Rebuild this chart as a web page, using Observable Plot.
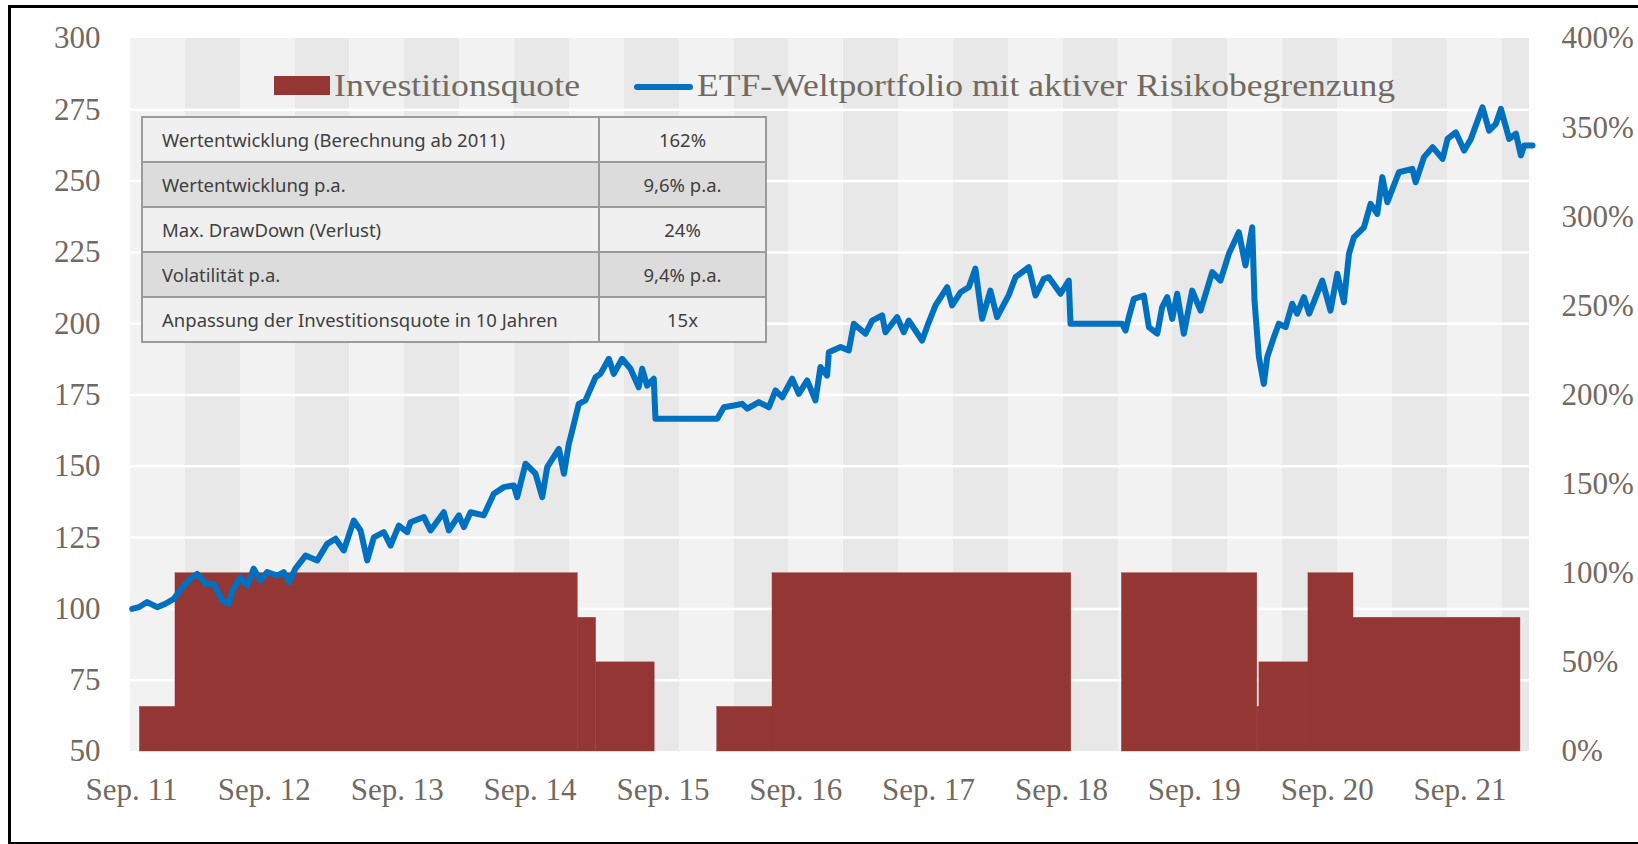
<!DOCTYPE html>
<html>
<head>
<meta charset="utf-8">
<script src="https://cdn.jsdelivr.net/npm/d3@7"></script>
<script src="https://cdn.jsdelivr.net/npm/@observablehq/plot@0.6"></script>
<style>
  html, body { margin: 0; padding: 0; background: #fff; width: 1638px; height: 844px; overflow: hidden; }
  #wrap { position: relative; width: 1638px; height: 844px; }
  #chart { position: absolute; left: 0; top: 0; }
  #frame { position: absolute; left: 8px; top: 5px; width: 1700px; height: 840px; border: 3px solid #000; box-sizing: border-box; pointer-events: none; }
  .leg { position: absolute; }
  .legtxt { position: absolute; font-family: "Liberation Serif", serif; font-size: 32px; color: #716a63; white-space: nowrap; line-height: 32px; transform-origin: 0 50%; }
  #stats { position: absolute; left: 141px; top: 116px; border-collapse: collapse; font-family: "Noto Sans", sans-serif; font-size: 18.5px; color: #404040; }
  #stats td { border: 2px solid #9b9b9b; height: 45px; padding: 0; box-sizing: border-box; }
  #stats td.k { width: 457px; padding-left: 19px; }
  #stats td.v { width: 167px; text-align: center; }
</style>
</head>
<body>
<div id="wrap">
  <div id="chart"></div>
  <div class="leg" style="left:274px; top:76px; width:56px; height:19px; background:#943634;"></div>
  <div class="legtxt" id="l1" style="left:334px; top:69px;"></div>
  <div class="leg" style="left:634px; top:84px; width:59px; height:6px; border-radius:3px; background:#0070C0;"></div>
  <div class="legtxt" id="l2" style="left:697px; top:69px;"></div>
  <table id="stats"></table>
  <div id="frame"></div>
</div>
<script>
// ---------- data ----------
const legendLabels = ["Investitionsquote", "ETF-Weltportfolio mit aktiver Risikobegrenzung"];

// ETF portfolio value (indexed, 100 = Sep. 2011); x in decimal years
const etfYear = [
  2011.671, 2011.721, 2011.784, 2011.859, 2011.922, 2011.984, 2012.060, 2012.110, 2012.160, 2012.223,
  2012.285, 2012.349, 2012.398, 2012.424, 2012.486, 2012.537, 2012.586, 2012.637, 2012.687, 2012.763,
  2012.812, 2012.850, 2012.900, 2012.976, 2013.064, 2013.139, 2013.202, 2013.264, 2013.339, 2013.390,
  2013.440, 2013.490, 2013.565, 2013.616, 2013.678, 2013.741, 2013.766, 2013.867, 2013.917, 2014.017,
  2014.055, 2014.130, 2014.168, 2014.218, 2014.318, 2014.393, 2014.469, 2014.544, 2014.569, 2014.632,
  2014.707, 2014.758, 2014.795, 2014.883, 2014.921, 2014.958, 2014.971, 2015.008, 2015.033, 2015.083,
  2015.159, 2015.196, 2015.259, 2015.296, 2015.359, 2015.422, 2015.484, 2015.510, 2015.547, 2015.597,
  2015.610, 2016.075, 2016.125, 2016.200, 2016.263, 2016.301, 2016.388, 2016.464, 2016.514, 2016.564,
  2016.639, 2016.689, 2016.752, 2016.814, 2016.852, 2016.902, 2016.915, 2017.003, 2017.065, 2017.103,
  2017.191, 2017.241, 2017.316, 2017.341, 2017.429, 2017.479, 2017.517, 2017.617, 2017.667, 2017.718,
  2017.806, 2017.843, 2017.906, 2017.968, 2018.018, 2018.069, 2018.131, 2018.181, 2018.269, 2018.320,
  2018.420, 2018.471, 2018.533, 2018.571, 2018.659, 2018.721, 2018.734, 2019.123, 2019.148, 2019.173,
  2019.211, 2019.286, 2019.324, 2019.387, 2019.424, 2019.462, 2019.500, 2019.537, 2019.587, 2019.650,
  2019.713, 2019.801, 2019.863, 2019.926, 2020.001, 2020.051, 2020.102, 2020.119, 2020.152, 2020.189,
  2020.215, 2020.265, 2020.302, 2020.353, 2020.403, 2020.440, 2020.491, 2020.531, 2020.629, 2020.691,
  2020.742, 2020.792, 2020.830, 2020.867, 2020.943, 2020.993, 2021.043, 2021.081, 2021.119, 2021.206,
  2021.307, 2021.332, 2021.395, 2021.460, 2021.535, 2021.572, 2021.634, 2021.697, 2021.748, 2021.835,
  2021.885, 2021.936, 2021.974, 2022.036, 2022.087, 2022.124, 2022.149, 2022.212
];
const etfValue = [
  100.0, 100.6, 102.4, 100.6, 101.8, 103.5, 108.2, 110.6, 112.3, 108.8,
  108.8, 102.9, 101.8, 106.4, 111.1, 108.2, 114.1, 110.0, 112.9, 111.7,
  112.9, 109.4, 114.1, 118.7, 117.0, 122.8, 124.6, 120.5, 131.0, 127.5,
  117.0, 125.1, 126.9, 122.2, 129.2, 126.9, 130.4, 132.2, 127.5, 133.9,
  127.5, 132.8, 128.7, 133.9, 132.8, 140.4, 142.7, 143.3, 139.2, 150.9,
  147.4, 139.2, 149.7, 156.1, 147.4, 157.9, 160.2, 167.2, 171.9, 173.1,
  181.2, 182.4, 187.7, 182.4, 187.7, 184.2, 177.7, 184.2, 178.3, 180.7,
  166.7, 166.7, 170.7, 171.3, 171.9, 170.2, 172.5, 170.7, 176.6, 174.2,
  180.7, 175.4, 180.1, 173.1, 184.8, 181.8, 190.0, 191.8, 190.6, 200.0,
  196.5, 201.1, 202.9, 197.0, 202.3, 197.0, 201.1, 194.1, 200.5, 206.4,
  212.8, 206.4, 211.0, 212.8, 219.3, 201.7, 211.6, 202.3, 210.0, 216.3,
  219.8, 209.9, 215.7, 216.3, 210.5, 215.1, 200.0, 200.0, 197.6, 202.3,
  208.7, 209.9, 198.8, 196.5, 205.8, 209.3, 201.7, 210.5, 196.5, 211.6,
  204.6, 218.1, 215.1, 224.5, 232.1, 220.4, 233.8, 208.1, 188.3, 178.9,
  188.3, 195.3, 200.0, 198.8, 207.0, 203.5, 209.3, 203.5, 215.1, 204.6,
  217.5, 207.5, 224.5, 230.3, 233.8, 242.0, 238.5, 251.4, 242.6, 253.1,
  254.3, 249.6, 258.4, 261.9, 257.8, 264.8, 267.1, 260.7, 264.8, 275.9,
  267.7, 270.1, 275.3, 264.8, 266.6, 259.0, 262.5, 262.5
];

// Investitionsquote (investment ratio, %) as steps
const quoteStart = [2011.729, 2011.997, 2015.025, 2015.163, 2016.075, 2016.491, 2019.121, 2020.140, 2020.156, 2020.525, 2020.864];
const quoteEnd   = [2011.997, 2015.025, 2015.163, 2015.604, 2016.491, 2018.740, 2020.140, 2020.156, 2020.525, 2020.864, 2022.121];
const quotePct   = [25, 100, 75, 50, 25, 100, 100, 25, 50, 100, 75];

// axes
const leftTicks = [50, 75, 100, 125, 150, 175, 200, 225, 250, 275, 300];
const rightTicks = [0, 50, 100, 150, 200, 250, 300, 350, 400];
const xTickYears = [2011, 2012, 2013, 2014, 2015, 2016, 2017, 2018, 2019, 2020, 2021];
const xTickLabels = ["Sep. 11", "Sep. 12", "Sep. 13", "Sep. 14", "Sep. 15", "Sep. 16", "Sep. 17", "Sep. 18", "Sep. 19", "Sep. 20", "Sep. 21"];

// table
const statKeys = ["Wertentwicklung (Berechnung ab 2011)", "Wertentwicklung p.a.", "Max. DrawDown (Verlust)", "Volatilität p.a.", "Anpassung der Investitionsquote in 10 Jahren"];
const statVals = ["162%", "9,6% p.a.", "24%", "9,4% p.a.", "15x"];

// ---------- build ----------
const SEP = 0.666;                 // September 1 as a year fraction
const xDomain = [2011.6585, 2022.189];
const pctToLeft = p => 50 + p * 250 / 400;   // right axis (0–400 %) onto left axis (50–300)

const etf = etfYear.map((x, i) => ({x, v: etfValue[i]}));
const quote = quoteStart.map((s, i) => ({x1: s, x2: quoteEnd[i], pct: quotePct[i]}));

// alternating background bands (decoration)
const bandW = 0.413;
const bands = d3.range(xDomain[0], xDomain[1], bandW).map((s, i) => ({x1: s, x2: Math.min(s + bandW, xDomain[1]), i}));

const textColor = "#716a63";
const chart = Plot.plot({
  width: 1638,
  height: 844,
  marginLeft: 130,
  marginRight: 109,
  marginTop: 38,
  marginBottom: 93,
  style: {fontFamily: "Liberation Serif, serif", fontSize: "31px", color: textColor, background: "transparent", overflow: "visible"},
  x: {type: "linear", domain: xDomain},
  y: {domain: [50, 300]},
  marks: [
    Plot.rect(bands, {x1: "x1", x2: "x2", y1: 50, y2: 300, fill: d => d.i % 2 ? "#e8e8e8" : "#f2f2f2", shapeRendering: "crispEdges"}),
    Plot.ruleY(leftTicks.filter(t => t > 50 && t < 300), {stroke: "#ffffff", strokeWidth: 2.5}),
    Plot.rect(quote, {x1: "x1", x2: "x2", y1: 50, y2: d => pctToLeft(d.pct), fill: "#943634", stroke: "#943634", strokeWidth: 0.4}),
    Plot.line(etf, {x: "x", y: "v", stroke: "#0070C0", strokeWidth: 6, strokeLinejoin: "round", strokeLinecap: "round"}),
    Plot.axisY(leftTicks, {anchor: "left", tickSize: 0, tickPadding: 30, label: null, fill: textColor, fontSize: 31}),
    Plot.axisY(rightTicks.map(pctToLeft), {anchor: "right", tickSize: 0, tickPadding: 32, label: null, fill: textColor, fontSize: 31,
      tickFormat: d => Math.round((d - 50) * 400 / 250) + "%"}),
    Plot.axisX(xTickYears.map(y => y + SEP), {anchor: "bottom", tickSize: 0, tickPadding: 26, label: null, fill: textColor, fontSize: 31,
      tickFormat: (d, i) => xTickLabels[i]})
  ]
});
document.getElementById("chart").appendChild(chart);

// legend texts, fitted to the reference widths
function fit(id, text, w) {
  const el = document.getElementById(id);
  el.textContent = text;
  const cw = el.getBoundingClientRect().width;
  el.style.transform = `scaleX(${w / cw})`;
}
fit("l1", legendLabels[0], 246);
fit("l2", legendLabels[1], 698);

// table
const tbl = document.getElementById("stats");
statKeys.forEach((k, i) => {
  const tr = document.createElement("tr");
  tr.style.background = i % 2 ? "#dcdcdc" : "#f0f0f0";
  const a = document.createElement("td"); a.className = "k"; a.textContent = k;
  const b = document.createElement("td"); b.className = "v"; b.textContent = statVals[i];
  tr.appendChild(a); tr.appendChild(b); tbl.appendChild(tr);
});
</script>
</body>
</html>
